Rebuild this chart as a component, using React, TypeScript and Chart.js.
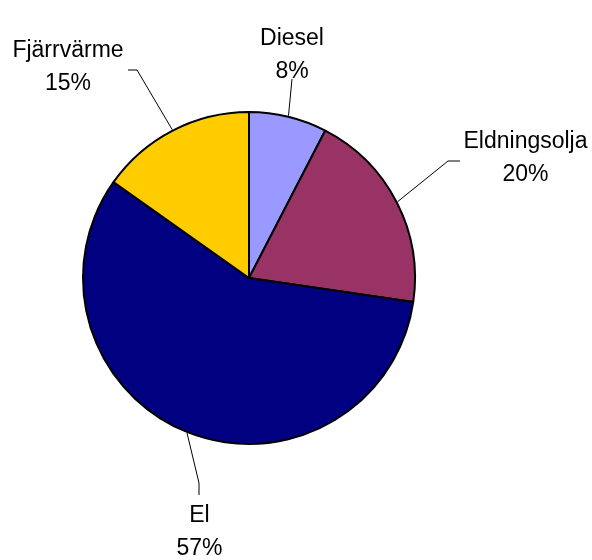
import React, { useEffect, useRef } from "react";
import { Chart, registerables } from "chart.js";

Chart.register(...registerables);

const categories = ["Diesel", "Eldningsolja", "El", "Fjärrvärme"];
const values = [7.6, 19.7, 57.5, 15.2];
const percentLabels = ["8%", "20%", "57%", "15%"];
const colors = ["#9999FF", "#993366", "#000080", "#FFCC00"];

// label layout, offsets in px relative to the pie centre
const labelLayout = [
  { text: [43, -239], line: [[43, -199]] },
  { text: [276.5, -136.5], line: [[199, -117], [211, -117]] },
  { text: [-49.5, 238], line: [[-50, 205], [-50, 217]] },
  { text: [-181, -227], line: [[-112, -208], [-121, -208]] },
];

const FONT = '23px "Liberation Sans", Arial, sans-serif';
const LINE_GAP = 33;

const labelPlugin = {
  id: "pieLabels",
  afterDraw(chart: any) {
    const ctx = chart.ctx;
    const meta = chart.getDatasetMeta(0);
    ctx.save();
    meta.data.forEach((arc: any, i: number) => {
      const { x, y, startAngle, endAngle, outerRadius } = arc.getProps(
        ["x", "y", "startAngle", "endAngle", "outerRadius"],
        true
      );
      const mid = (startAngle + endAngle) / 2;
      const r = outerRadius + 1;
      const sx = x + Math.cos(mid) * r;
      const sy = y + Math.sin(mid) * r;
      const lay = labelLayout[i];
      ctx.beginPath();
      ctx.strokeStyle = "#000";
      ctx.lineWidth = 1;
      ctx.moveTo(sx, sy);
      lay.line.forEach((p) => ctx.lineTo(x + p[0], y + p[1]));
      ctx.stroke();
      ctx.fillStyle = "#000";
      ctx.font = FONT;
      ctx.textAlign = "center";
      ctx.textBaseline = "middle";
      ctx.fillText(categories[i], x + lay.text[0], y + lay.text[1]);
      ctx.fillText(percentLabels[i], x + lay.text[0], y + lay.text[1] + LINE_GAP);
    });
    ctx.restore();
  },
};

export default function App() {
  const ref = useRef<HTMLCanvasElement>(null);
  useEffect(() => {
    if (!ref.current) return;
    const chart = new Chart(ref.current, {
      type: "pie",
      data: {
        labels: categories,
        datasets: [
          {
            data: values,
            backgroundColor: colors,
            borderColor: "#000",
            borderWidth: 2,
          },
        ],
      },
      options: {
        responsive: false,
        animation: false,
        layout: { padding: { left: 82, right: 176, top: 111, bottom: 115 } },
        plugins: {
          legend: { display: false },
          tooltip: { enabled: false },
        },
      },
      plugins: [labelPlugin],
    });
    return () => chart.destroy();
  }, []);
  return (
    <div style={{ position: "absolute", left: 0, top: 0, width: 592, height: 560, background: "#fff" }}>
      <canvas ref={ref} width={592} height={560} style={{ width: 592, height: 560 }} />
    </div>
  );
}
